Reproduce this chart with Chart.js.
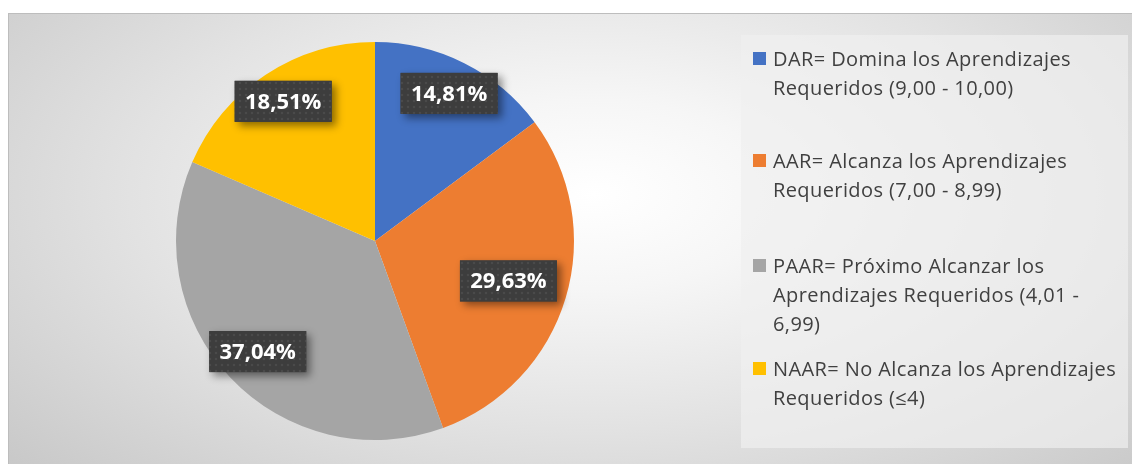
<!DOCTYPE html>
<html>
<head>
<meta charset="utf-8">
<script src="https://cdn.jsdelivr.net/npm/chart.js@4"></script>
<style>
  body { margin: 0; width: 1132px; height: 464px; overflow: hidden; background: #fff; position: relative; }
  #frame {
    position: absolute; left: 8px; top: 13px; width: 1124px; height: 451px;
    border-top: 1px solid #bdbdbd; border-left: 1px solid #bdbdbd;
    background: radial-gradient(ellipse 75% 95% at 52% 40%, #ffffff 0%, #f6f6f6 22%, #e2e2e2 55%, #c4c4c4 100%);
  }
  #wrap { position: absolute; left: 0; top: 0; width: 1123px; height: 450px; }
  #legend {
    position: absolute; left: 741px; top: 35px; width: 387px; height: 413px;
    background: rgba(240, 240, 240, 0.7);
    font-family: "Open Sans", "Noto Sans", sans-serif; font-size: 20px; letter-spacing: 0.4px; color: #404040;
  }
  .item { position: absolute; left: 12px; width: 375px; line-height: 29px; padding-left: 20px; white-space: nowrap; }
  .item .sw { position: absolute; left: 0; top: 8px; width: 13px; height: 13px; }
</style>
</head>
<body>
<div id="frame">
  <div id="wrap"><canvas id="pie"></canvas></div>
</div>
<div id="legend"></div>
<script>
// datos del gráfico
const categorias = [
  'DAR= Domina los Aprendizajes Requeridos (9,00 - 10,00)',
  'AAR= Alcanza los Aprendizajes Requeridos (7,00 - 8,99)',
  'PAAR= Próximo Alcanzar los Aprendizajes Requeridos (4,01 - 6,99)',
  'NAAR= No Alcanza los Aprendizajes Requeridos (≤4)'
];
const lineasLeyenda = [
  ['DAR= Domina los Aprendizajes', 'Requeridos (9,00 - 10,00)'],
  ['AAR= Alcanza los Aprendizajes', 'Requeridos (7,00 - 8,99)'],
  ['PAAR= Próximo Alcanzar los', 'Aprendizajes Requeridos (4,01 -', '6,99)'],
  ['NAAR= No Alcanza los Aprendizajes', 'Requeridos (≤4)']
];
const porcentajes = [14.81, 29.63, 37.04, 18.51];
const etiquetas = ['14,81%', '29,63%', '37,04%', '18,51%'];
const colores = ['#4472C4', '#ED7D31', '#A5A5A5', '#FFC000'];

// leyenda en HTML
const topsLeyenda = [9, 111, 216, 319];
const legend = document.getElementById('legend');
lineasLeyenda.forEach((lineas, i) => {
  const div = document.createElement('div');
  div.className = 'item';
  div.style.top = topsLeyenda[i] + 'px';
  div.innerHTML = '<span class="sw" style="background:' + colores[i] + '"></span>' + lineas.join('<br>');
  legend.appendChild(div);
});

// patrón de puntos para las cajas de etiquetas
function crearPatron(ctx) {
  const c = document.createElement('canvas');
  c.width = 6; c.height = 6;
  const p = c.getContext('2d');
  p.fillStyle = '#3d3d3d';
  p.fillRect(0, 0, 6, 6);
  p.fillStyle = '#4a4a4a';
  p.beginPath();
  p.arc(3, 3, 1.3, 0, Math.PI * 2);
  p.fill();
  return ctx.createPattern(c, 'repeat');
}

// plugin para dibujar las etiquetas de datos
const radioEtiqueta = [0.83, 0.70, 0.81, 0.84];
const etiquetasPlugin = {
  id: 'etiquetas',
  afterDatasetsDraw(chart) {
    const ctx = chart.ctx;
    const meta = chart.getDatasetMeta(0);
    const patron = crearPatron(ctx);
    ctx.save();
    ctx.font = 'bold 22px "Open Sans", "Noto Sans", sans-serif';
    ctx.textAlign = 'center';
    ctx.textBaseline = 'middle';
    meta.data.forEach((arc, i) => {
      const p = arc.getProps(['x', 'y', 'startAngle', 'endAngle', 'outerRadius'], true);
      const a = (p.startAngle + p.endAngle) / 2;
      const r = p.outerRadius * radioEtiqueta[i];
      const cx = p.x + Math.cos(a) * r;
      const cy = p.y + Math.sin(a) * r;
      const w = 97, h = 41;
      ctx.save();
      ctx.shadowColor = 'rgba(0,0,0,0.45)';
      ctx.shadowBlur = 8;
      ctx.shadowOffsetX = 4;
      ctx.shadowOffsetY = 4;
      ctx.fillStyle = '#3d3d3d';
      ctx.fillRect(cx - w / 2, cy - h / 2, w, h);
      ctx.restore();
      ctx.fillStyle = patron;
      ctx.fillRect(cx - w / 2, cy - h / 2, w, h);
      ctx.fillStyle = '#ffffff';
      ctx.fillText(etiquetas[i], cx, cy + 1);
    });
    ctx.restore();
  }
};

new Chart(document.getElementById('pie'), {
  type: 'pie',
  data: {
    labels: categorias,
    datasets: [{
      data: porcentajes,
      backgroundColor: colores,
      borderWidth: 0
    }]
  },
  options: {
    responsive: true,
    maintainAspectRatio: false,
    animation: false,
    layout: { padding: { left: 167, top: 28, right: 558, bottom: 24 } },
    plugins: {
      legend: { display: false },
      tooltip: { enabled: false }
    }
  },
  plugins: [etiquetasPlugin]
});
</script>
</body>
</html>
